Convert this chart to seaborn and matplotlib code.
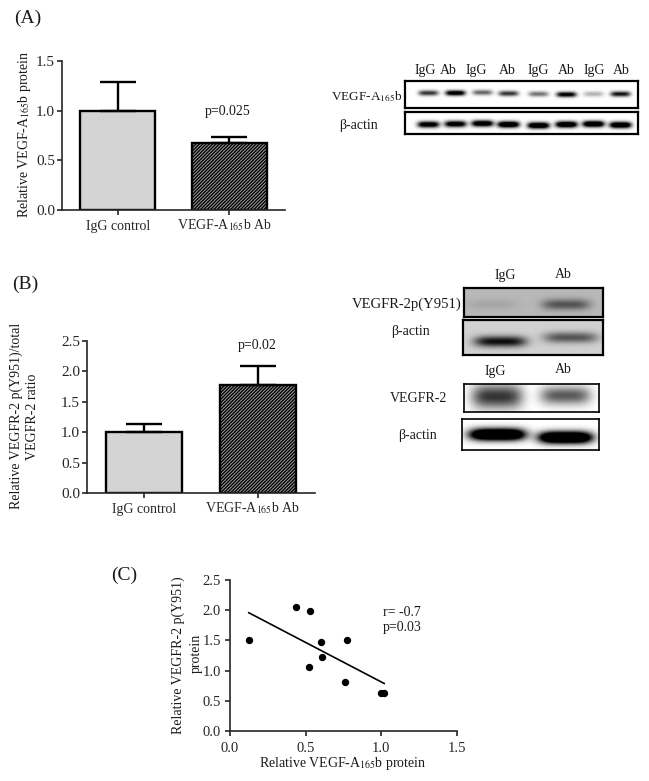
import numpy as np
import pandas as pd
import matplotlib
matplotlib.use('Agg')
import matplotlib.pyplot as plt
from matplotlib.transforms import ScaledTranslation
import seaborn as sns

W, H = 649, 781

groups = ['IgG control', 'VEGF-A165b Ab']
group_labels = ['IgG control', 'VEGF-A$_{165}$b Ab']
a_means = [1.0, 0.67]
a_errs = [0.29, 0.065]
b_means = [1.0, 1.78]
b_errs = [0.13, 0.31]

c_x = [0.123, 0.434, 0.53, 0.60, 0.77, 0.61, 0.52, 0.76, 1.0, 1.02]
c_y = [1.51, 2.05, 1.98, 1.47, 1.50, 1.23, 1.06, 0.81, 0.63, 0.63]

# blot band strength per lane, 0 = nothing, 1 and above = black core
vegfa_bands = [0.8, 1.2, 0.6, 0.8, 0.55, 1.1, 0.3, 0.95]
vegfa_actin = [1.2, 1.2, 1.3, 1.4, 1.4, 1.4, 1.4, 1.4]
p951_bands = [0.1, 0.55]
p951_actin = [0.95, 0.6]
r2_bands = [0.8, 0.65]
r2_actin = [1.8, 1.8]

sns.set_theme(style='ticks')
plt.rcParams['font.family'] = ['Liberation Serif', 'DejaVu Serif']
plt.rcParams['mathtext.fontset'] = 'stix'
plt.rcParams['hatch.linewidth'] = 1.0
plt.rcParams['axes.linewidth'] = 1.2

fig = plt.figure(figsize=(W / 100, H / 100), dpi=100)
fig.patch.set_facecolor('white')


def px_axes(left, top, right, bottom):
    return fig.add_axes([left / W, 1 - bottom / H, (right - left) / W, (bottom - top) / H])


def px_text(x, y, s, size=10, ha='center', va='center', **kw):
    fig.text(x / W, 1 - y / H, s, fontsize=size, ha=ha, va=va, color='#1a1a1a', **kw)


def bar_panel(ax, means, errs, ymax, yticks):
    df = pd.DataFrame({'group': groups, 'value': means})
    sns.barplot(data=df, x='group', y='value', hue='group', ax=ax, width=0.67,
                palette=['#d4d4d4', '#a0a0a0'], edgecolor='black', linewidth=1.7,
                legend=False, saturation=1)
    ax.patches[1].set_hatch('//////////')
    ax.errorbar([0, 1], means, yerr=[[0, 0], errs], fmt='none', ecolor='black',
                elinewidth=1.7, capsize=13, capthick=1.7, zorder=1)
    ax.set_xlim(-0.5, 1.5)
    ax.set_ylim(0, ymax)
    ax.set_yticks(yticks)
    ax.set_yticklabels([f'{t:.1f}' for t in yticks], fontsize=11)
    ax.set_xticks([0, 1])
    ax.set_xticklabels(group_labels)
    ax.set_xlabel('')
    ax.set_ylabel('')
    ax.tick_params(axis='x', labelsize=10, length=3.5, width=1.2, pad=4)
    ax.tick_params(axis='y', length=3.5, width=1.2, pad=1.5)
    lab = ax.get_xticklabels()[1]
    lab.set_transform(lab.get_transform() + ScaledTranslation(-5 / 100, 3 / 100, fig.dpi_scale_trans))
    ax.patch.set_alpha(0)
    sns.despine(ax=ax)


def blot(left, top, right, bottom, bands, back=1.0, edge=1.6):
    # bands: (strength, cx, cy, half width, half height) in page pixels
    ax = px_axes(left, top, right, bottom)
    xx, yy = np.meshgrid(np.arange(left, right, 0.5), np.arange(top, bottom, 0.5))
    img = np.full(xx.shape, float(back))
    for val, cx, cy, hw, hh in bands:
        img -= val * back * np.exp(-((xx - cx) / hw) ** 4 - ((yy - cy) / hh) ** 2)
    sns.heatmap(img.clip(0, 1), cmap='gray', vmin=0, vmax=1, cbar=False,
                xticklabels=False, yticklabels=False, ax=ax, rasterized=True)
    for s in ax.spines.values():
        s.set_visible(True)
        s.set_linewidth(edge)
        s.set_color('black')
    return ax


# panel A
ax_a = px_axes(62, 61, 285, 210)
bar_panel(ax_a, a_means, a_errs, 1.5, [0, 0.5, 1.0, 1.5])
px_text(14, 18, '(A)', size=14, ha='left')
px_text(25, 134, 'Relative VEGF-A$_{165}$b protein', rotation=90)
px_text(228, 111, 'p=0.025')

lanes_a = [428, 455, 482, 508, 538, 566, 593, 620]
tops_a = [92.5, 92.5, 92, 93, 93.5, 94, 93.5, 93.5]
blot(405, 81, 638, 108, [(v, x, y, 10, 2.7) for v, x, y in zip(vegfa_bands, lanes_a, tops_a)])
actin_y = [124, 123.5, 123, 124, 125, 124, 123.5, 124.5]
blot(405, 112, 638, 134, [(v, x, y, 11, 3.2) for v, x, y in zip(vegfa_actin, lanes_a, actin_y)])
for x, s in zip([425, 448, 476, 507, 538, 566, 594, 621], ['IgG', 'Ab'] * 4):
    px_text(x, 74, s, va='baseline')
px_text(367, 97, 'VEGF-A$_{165}$b', size=9.5)
px_text(359, 125, 'β-actin')

# panel B
ax_b = px_axes(87, 341, 315, 493)
bar_panel(ax_b, b_means, b_errs, 2.5, [0, 0.5, 1.0, 1.5, 2.0, 2.5])
px_text(12, 284, '(B)', size=14, ha='left')
px_text(16, 416, 'Relative VEGFR-2 p(Y951)/total', rotation=90)
px_text(33, 417, 'VEGFR-2 ratio', rotation=90)
px_text(257, 345, 'p=0.02')

blot(464, 288, 603, 317, [(p951_bands[0], 493, 304, 25, 5), (p951_bands[1], 566, 304, 24, 5.5)], back=0.72)
blot(463, 320, 603, 355, [(p951_actin[0], 500, 341, 26, 5.5), (p951_actin[1], 570, 337, 27, 5.5)], back=0.82)
blot(464, 384, 599, 412, [(r2_bands[0], 497, 396, 25, 12), (r2_bands[1], 565, 395, 25, 9)], edge=1.2)
blot(462, 419, 599, 450, [(r2_actin[0], 497, 434, 28, 6), (r2_actin[1], 565, 437, 27, 6)], edge=1.2)
px_text(505, 279, 'IgG', va='baseline')
px_text(563, 278, 'Ab', va='baseline')
px_text(352, 304, 'VEGFR-2p(Y951)', ha='left', size=10.5)
px_text(410, 332, 'β-actin')
px_text(495, 375, 'IgG', va='baseline')
px_text(563, 373, 'Ab', va='baseline')
px_text(419, 398, 'VEGFR-2')
px_text(418, 435, 'β-actin')

# panel C
ax_c = px_axes(230, 580, 457, 731)
sns.regplot(x=c_x, y=c_y, ci=None, truncate=True, ax=ax_c,
            scatter_kws={'s': 28, 'color': 'black', 'linewidths': 0, 'zorder': 3, 'alpha': 1},
            line_kws={'color': 'black', 'linewidth': 1.2})
ax_c.set_xlim(0, 1.5)
ax_c.set_ylim(0, 2.5)
ax_c.set_xticks([0, 0.5, 1.0, 1.5])
ax_c.set_yticks([0, 0.5, 1.0, 1.5, 2.0, 2.5])
ax_c.set_xticklabels(['0.0', '0.5', '1.0', '1.5'], fontsize=10.5)
ax_c.set_yticklabels(['0.0', '0.5', '1.0', '1.5', '2.0', '2.5'], fontsize=10.5)
ax_c.tick_params(axis='x', length=3.5, width=1.2, pad=4.5)
ax_c.tick_params(axis='y', length=3.5, width=1.2, pad=3)
sns.despine(ax=ax_c)
px_text(111, 575, '(C)', size=14, ha='left')
px_text(178, 655, 'Relative VEGFR-2 p(Y951)', rotation=90)
px_text(196, 653, 'protein', rotation=90)
px_text(343, 763, 'Relative VEGF-A$_{165}$b protein')
px_text(383, 612, 'r= -0.7', ha='left')
px_text(383, 628, 'p=0.03', ha='left')

fig.savefig('out.png', dpi=100)
